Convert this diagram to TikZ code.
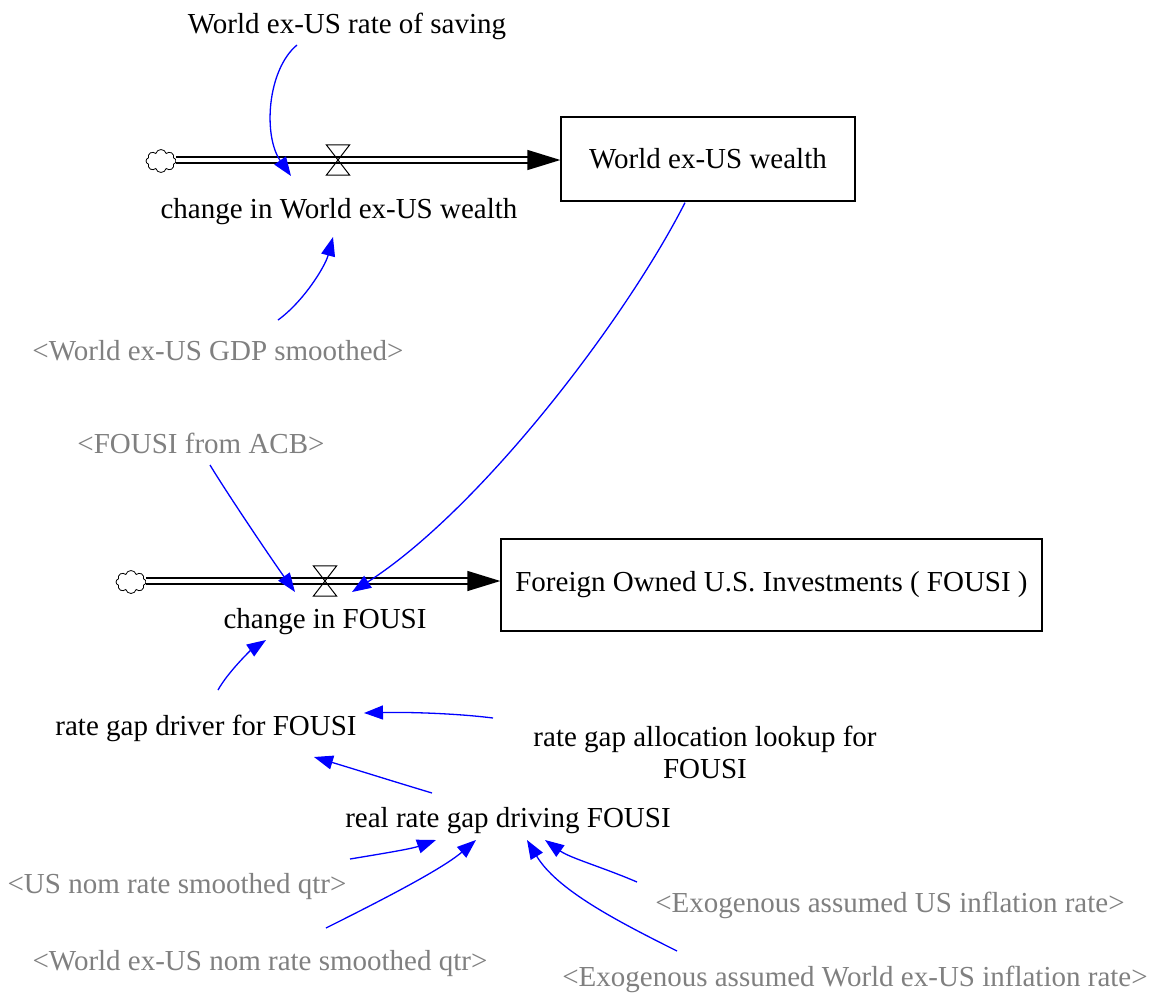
\documentclass[tikz,border=0pt]{standalone}
\usepackage{fontspec}
\setmainfont{Liberation Serif}
\usetikzlibrary{arrows.meta,shapes.symbols,calc}
\definecolor{shadowgray}{RGB}{128,128,128}
\definecolor{linkblue}{RGB}{0,0,255}
\begin{document}
\begin{tikzpicture}[x=1pt,y=-1pt,
  lbl/.style={font=\fontsize{29}{32}\selectfont, inner sep=0pt, anchor=base},
  shadowlbl/.style={lbl, text=shadowgray},
  stock/.style={draw, line width=1.3pt, font=\fontsize{29}{32}\selectfont, inner sep=0pt},
  link/.style={draw=linkblue, line width=1.3pt, -{Triangle[length=19pt,width=14pt]}, linkblue},
  pipe/.style={draw=black, line width=1.3pt, double=white, double distance=4.6pt, -{Triangle[length=33pt,width=20pt]}},
  valve/.style={minimum width=23pt, minimum height=30pt, inner sep=0pt},
  valveline/.style={draw=black, line width=1pt, line join=miter},
  cloudnode/.style={cloud, cloud puffs=8, draw, line width=0.8pt, minimum width=30pt, minimum height=23pt, inner sep=0pt, aspect=1.3}
]
\useasboundingbox (0,0) rectangle (1152,996);

% stocks
\node[stock, minimum width=294pt, minimum height=84pt] (box1) at (708,159) {World ex-US wealth};
\node[stock, minimum width=541pt, minimum height=92pt] (box2) at (771.5,585) {Foreign Owned U.S. Investments ( FOUSI )};

% clouds
\node[cloudnode] (c1) at (161,161) {};
\node[cloudnode] (c2) at (131,582) {};

% valves
\node[valve] (v1) at (338,160) {};
\node[valve] (v2) at (325,581) {};

% pipes
\draw[pipe] (c1.east |- v1) -- (box1.west |- v1);
\draw[pipe] (c2.east |- v2) -- (box2.west |- v2);

\draw[valveline] (v1.north west) -- (v1.north east) -- (v1.south west) -- (v1.south east) -- cycle;
\draw[valveline] (v2.north west) -- (v2.north east) -- (v2.south west) -- (v2.south east) -- cycle;

% labels
\node[lbl] (saving) at (347,33) {World ex-US rate of saving};
\node[lbl] (change1) at (339,218) {change in World ex-US wealth};
\node[shadowlbl] (gdp) at (218,360) {<World ex-US GDP smoothed>};
\node[shadowlbl] (acb) at (201,453) {<FOUSI from ACB>};
\node[lbl] (change2) at (325,628) {change in FOUSI};
\node[lbl] (driver) at (206,735) {rate gap driver for FOUSI};
\node[lbl, align=center] (lookup) at (705,778) {rate gap allocation lookup for\\FOUSI};
\node[lbl] (realgap) at (508,827) {real rate gap driving FOUSI};
\node[shadowlbl] (usnom) at (177,893) {<US nom rate smoothed qtr>};
\node[shadowlbl] (wnom) at (260,970) {<World ex-US nom rate smoothed qtr>};
\node[shadowlbl] (exous) at (890,912) {<Exogenous assumed US inflation rate>};
\node[shadowlbl] (exow) at (855,986) {<Exogenous assumed World ex-US inflation rate>};

% links
\draw[link] ($(saving.base)+(-50,12)$) .. controls +(-30,25) and +(-28,-40) .. ($(v1)+(-47,16)$);
\draw[link] ($(gdp.base)+(60,-40)$) .. controls +(25,-18) and +(-8,30) .. ($(change1.base)+(-6,19)$);
\draw[link] ($(box1.south)+(-23,1)$) .. controls +(-60,118) and +(128,-82) .. ($(v2)+(27,11)$);
\draw[link] ($(acb.base)+(9,12)$) .. controls +(15,25) and +(-25,-35) .. ($(v2)+(-30,11)$);
\draw[link] ($(driver.base)+(12,-45)$) .. controls +(10,-18) and +(-15,10) .. ($(change2.base)+(-59,12)$);
\draw[link] ($(lookup.base)+(-212,-60)$) .. controls +(-40,-5) and +(40,-1) .. ($(driver.base)+(158,-22)$);
\draw[link] ($(realgap.base)+(-76,-34)$) .. controls +(-40,-12) and +(40,12) .. ($(driver.base)+(108,22)$);
\draw[link] ($(usnom.base)+(173,-34)$) .. controls +(30,-5) and +(-25,9) .. ($(realgap.base)+(-72,13)$);
\draw[link] ($(wnom.base)+(66,-42)$) .. controls +(50,-25) and +(-35,30) .. ($(realgap.base)+(-32,13)$);
\draw[link] ($(exous.base)+(-253,-30)$) .. controls +(-35,-15) and +(25,18) .. ($(realgap.base)+(37,13)$);
\draw[link] ($(exow.base)+(-178,-35)$) .. controls +(-60,-30) and +(30,50) .. ($(realgap.base)+(19,13)$);
\end{tikzpicture}
\end{document}
